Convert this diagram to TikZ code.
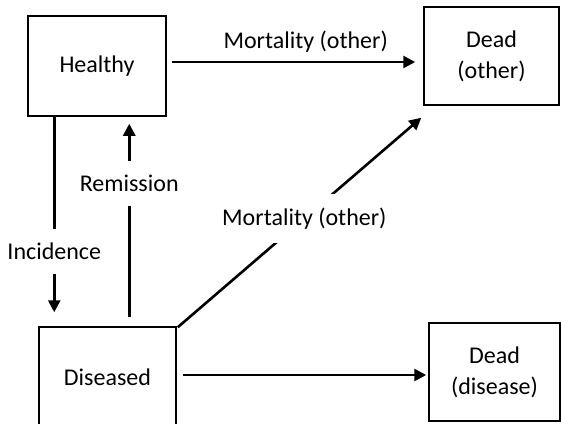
\documentclass[tikz,border=0pt]{standalone}
\usepackage{fontspec}
\setmainfont{Carlito}
\usetikzlibrary{arrows.meta}

\begin{document}
\begin{tikzpicture}[x = 0.5pt, y = -0.5pt]
	\tikzstyle{stateStyle} = [shape = rectangle, draw, line width = 0.75pt, inner sep = 0pt, align = center, font = \fontsize{12}{15.5}\selectfont]
	\tikzstyle{flowStyle} = [line width = 1.3pt, -{Triangle[length = 6pt, width = 6pt]}]
	\tikzstyle{labelStyle} = [fill = white, inner xsep = 2pt, inner ysep = 7pt, font = \fontsize{12}{15.5}\selectfont]
	\useasboundingbox (0, 0) rectangle (561, 423);
	\node[stateStyle, minimum width = 69pt, minimum height = 50pt] (healthy) at (97, 66) {Healthy};
	\node[stateStyle, minimum width = 67.5pt, minimum height = 49pt] (deadOther) at (491.5, 56) {Dead\\(other)};
	\node[stateStyle, minimum width = 68.5pt, minimum height = 50pt] (diseased) at (107.5, 377) {Diseased};
	\node[stateStyle, minimum width = 65.5pt, minimum height = 49pt] (deadDisease) at (494.5, 372) {Dead\\(disease)};
	\draw[flowStyle] ([shift = {(5, -4)}]healthy.east) -- node[pos = 0.55, yshift = 10pt, font = \fontsize{12}{15.5}\selectfont] (mortHealthy) {Mortality (other)} ([shift = {(-8, 6)}]deadOther.west);
	\draw[flowStyle] ([shift = {(27, 0)}]healthy.south west) -- node[pos = 0.69, labelStyle] (incidence) {Incidence} ([shift = {(16, -14)}]diseased.north west);
	\draw[flowStyle] ([shift = {(91, -9)}]diseased.north west) -- node[pos = 0.69, labelStyle] (remission) {Remission} ([shift = {(102, 7)}]healthy.south west);
	\draw[flowStyle] ([shift = {(1, 1)}]diseased.north east) -- node[pos = 0.52, labelStyle] (mortDiseased) {Mortality (other)} ([shift = {(-2, 12)}]deadOther.south west);
	\draw[flowStyle] ([shift = {(6, -2)}]diseased.east) -- ([shift = {(-2, 3)}]deadDisease.west);
\end{tikzpicture}
\end{document}
